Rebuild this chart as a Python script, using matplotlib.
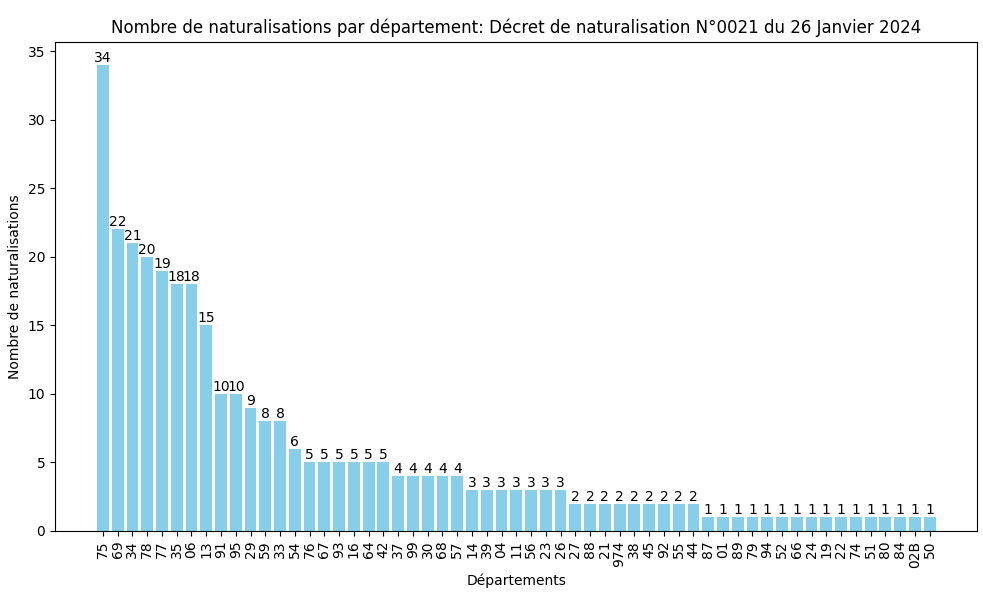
import matplotlib.pyplot as plt

departements = ["75", "69", "34", "78", "77", "35", "06", "13", "91", "95", "29", "59", "33", "54",
                "76", "67", "93", "16", "64", "42", "37", "99", "30", "68", "57",
                "14", "39", "04", "11", "56", "23", "26",
                "27", "88", "21", "974", "38", "45", "92", "55", "44",
                "87", "01", "89", "79", "94", "52", "66", "24", "19", "22", "74", "51", "80", "84", "02B", "50"]
counts = [34, 22, 21, 20, 19, 18, 18, 15, 10, 10, 9, 8, 8, 6,
          5, 5, 5, 5, 5, 5, 4, 4, 4, 4, 4,
          3, 3, 3, 3, 3, 3, 3,
          2, 2, 2, 2, 2, 2, 2, 2, 2,
          1, 1, 1, 1, 1, 1, 1, 1, 1, 1, 1, 1, 1, 1, 1, 1]

fig, ax = plt.subplots(figsize=(9.83, 5.95), dpi=100)
bars = ax.bar(departements, counts, color="skyblue")
for b, v in zip(bars, counts):
    ax.text(b.get_x() + b.get_width() / 2, b.get_height(), str(v),
            ha="center", va="bottom")

ax.set_xlabel("Départements")
ax.set_ylabel("Nombre de naturalisations")
ax.set_title("Nombre de naturalisations par département: Décret de naturalisation N°0021 du 26 Janvier 2024")
plt.xticks(rotation=90)
fig.subplots_adjust(left=0.056, right=0.9944, top=0.930, bottom=0.1076)
plt.savefig("out.png", dpi=100)
